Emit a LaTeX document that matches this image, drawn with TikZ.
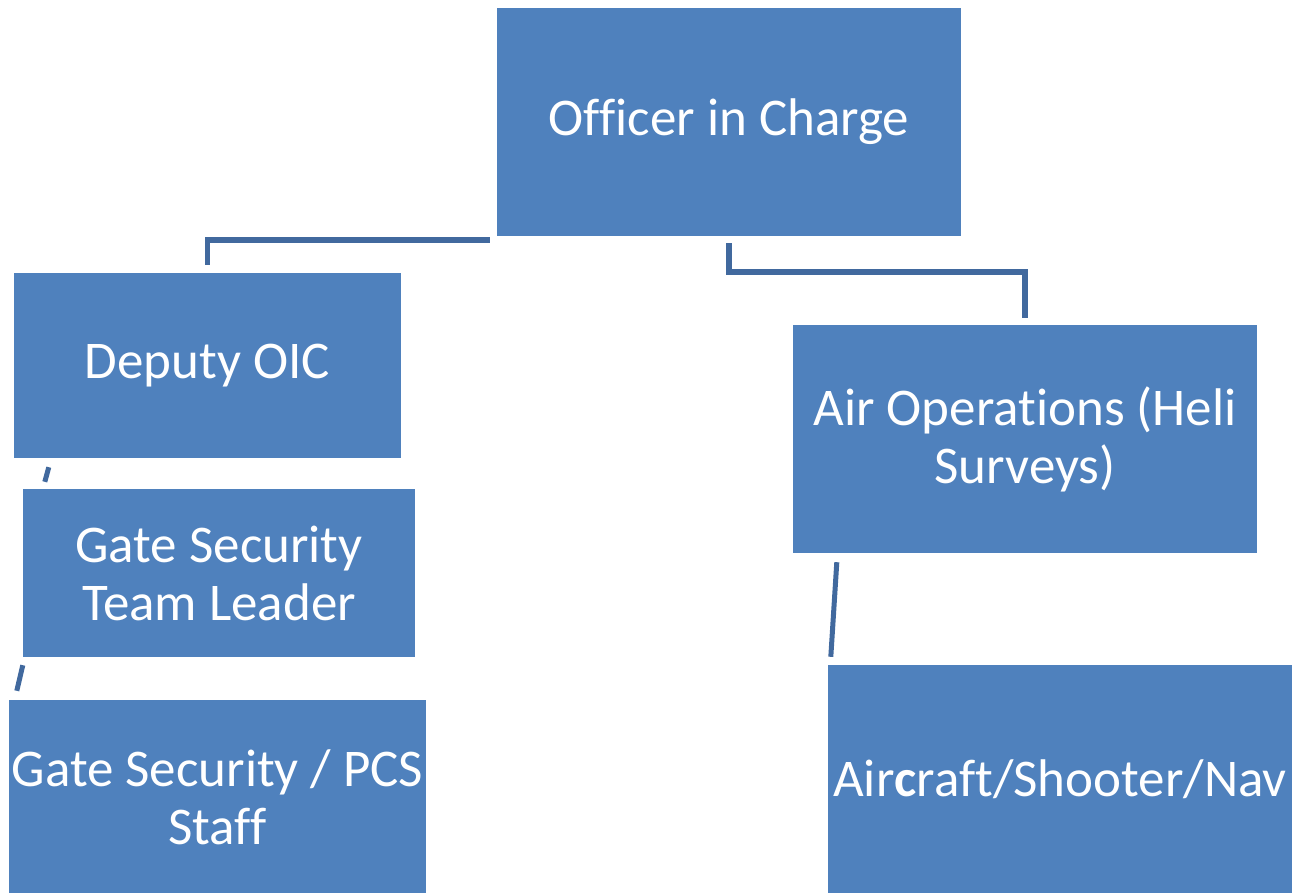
\documentclass[tikz,border=0pt]{standalone}
\usepackage{fontspec}
\setmainfont[Ligatures={NoCommon}]{Carlito}
\usetikzlibrary{calc}
\definecolor{boxblue}{HTML}{4F81BD}
\definecolor{linkblue}{HTML}{41699E}
\begin{document}
\begin{tikzpicture}[x=1pt,y=-1pt,
  orgbox/.style={fill=boxblue,draw=none,inner sep=0pt,text=white,align=center,
    font=\fontsize{53}{58}\selectfont},
  link/.style={draw=linkblue,line width=5.5pt},
  tick/.style={draw=linkblue,line width=5pt}]
\useasboundingbox (0,0) rectangle (1303,892);
\clip (0,0) rectangle (1303,892);
% boxes
\node[orgbox,minimum width=464pt,minimum height=228pt] (oic) at (729,122) {Officer in Charge};
\node[orgbox,minimum width=387pt,minimum height=185pt] (dep) at (207.5,365.5) {Deputy OIC};
\node[orgbox,minimum width=392pt,minimum height=168pt] (gtl) at (219,573) {Gate Security\\Team Leader};
\node[orgbox,minimum width=417pt,minimum height=194pt] (gps) at (217.5,797) {Gate Security / PCS\\Staff};
\node[orgbox,minimum width=464pt,minimum height=228pt] (air) at (1025,439) {Air Operations (Heli\\Surveys)};
\node[orgbox,minimum width=464pt,minimum height=228pt] (acr) at (1060,779) {Air\textbf{c}raft/Shooter/Nav};
% connectors
\draw[link,shorten >=8pt] ($(oic.south west)+(-7,4)$) -| (dep.north);
\draw[link,shorten >=7pt] ($(oic.south)+(0,7)$) -- ++(0,29) -| (air.north);
\draw[tick] ($(dep.south west)+(35,9)$) -- ($(gtl.north west)+(22,-7)$);
\draw[tick] ($(gtl.south west)+(0,8)$) -- ($(gps.north west)+(8,-9)$);
\draw[tick] ($(air.south west)+(44,9)$) -- ($(acr.north west)+(3,-8)$);
\end{tikzpicture}
\end{document}
